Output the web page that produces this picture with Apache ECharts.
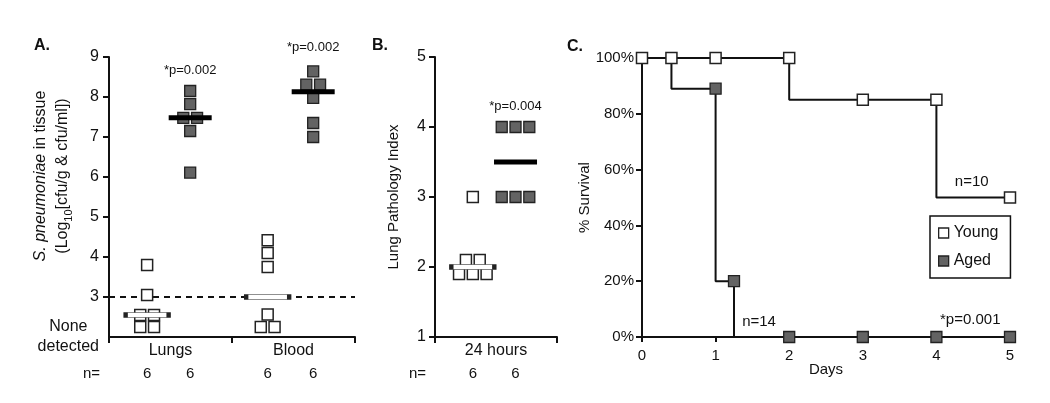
<!DOCTYPE html>
<html>
<head>
<meta charset="utf-8">
<script src="https://cdn.jsdelivr.net/npm/echarts@6/dist/echarts.min.js"></script>
<style>
  html, body { margin: 0; padding: 0; background: #fff; }
  #chart { width: 1050px; height: 403px; }
</style>
</head>
<body>
<div id="chart"></div>
<script>
// ---------------- DATA ----------------
// Panel A: bacterial burden (log10 cfu)
const tissueCategories = ['Lungs', 'Blood'];
const youngLungs = [3.8, 3.05, 2.55, 2.55, 2.25, 2.25];
const agedLungs  = [8.15, 7.82, 7.48, 7.48, 7.15, 6.11];
const youngBlood = [4.42, 4.1, 3.75, 2.56, 2.25, 2.25];
const agedBlood  = [8.64, 8.31, 8.31, 7.98, 7.35, 7.0];
const mediansA   = [2.55, 7.48, 3.0, 8.13];   // young lungs, aged lungs, young blood, aged blood
const nA         = [6, 6, 6, 6];
const detectionLimit = 3;
const yTicksA    = [3, 4, 5, 6, 7, 8, 9];
const pLabelsA   = ['*p=0.002', '*p=0.002'];
const pLabelYA   = [8.67, 9.24];

// Panel B: lung pathology index
const timeCategories = ['24 hours'];
const youngPath  = [3, 2.1, 2.1, 1.9, 1.9, 1.9];
const agedPath   = [4, 4, 4, 3, 3, 3];
const mediansB   = [2.0, 3.5];
const nB         = [6, 6];
const pLabelB    = '*p=0.004';
const pLabelYB   = 4.30;

// Panel C: survival
const youngDays  = [0, 0.4, 1, 2, 3, 4, 5];
const youngSurv  = [100, 100, 100, 100, 85, 85, 50];
const agedDays   = [0, 0.4, 1, 1.25, 2, 3, 4, 5];
const agedSurv   = [100, 100, 89, 20, 0, 0, 0, 0];
const agedMarked = [false, false, true, true, true, true, true, true];
const survTicks  = [0, 20, 40, 60, 80, 100];
const dayTicks   = [0, 1, 2, 3, 4, 5];
const annotC     = [
  { text: 'n=10',     day: 4.48, surv: 55.7 },
  { text: 'n=14',     day: 1.59, surv: 5.4 },
  { text: '*p=0.001', day: 4.46, surv: 6.3 }
];

// ---------------- LAYOUT / STYLE ----------------
const FONT = '"Liberation Sans", Arial, Helvetica, sans-serif';
const TXT = '#111';
const GRAY = '#636363';
const EDGE = '#222';
const groupPosA = [0.31, 0.66, 1.29, 1.66];   // x positions of groups within panel A (0..2)
const groupPosB = [0.31, 0.66];               // x positions within panel B (0..1)
const stepA = 0.112, stepB = 0.113;

function swarm(values, center, step) {
  const counts = {}, seen = {};
  values.forEach(v => counts[v] = (counts[v] || 0) + 1);
  return values.map(v => {
    const n = counts[v];
    const i = seen[v] = (seen[v] === undefined ? 0 : seen[v] + 1);
    return [center + (i - (n - 1) / 2) * step, v];
  });
}

const youngStyle = { color: '#fff', borderColor: EDGE, borderWidth: 1.5, opacity: 1 };
const agedStyle  = { color: GRAY, borderColor: EDGE, borderWidth: 1.3, opacity: 1 };

function axisLineStyle() { return { show: true, lineStyle: { color: TXT, width: 2 } }; }

const chart = echarts.init(document.getElementById('chart'), null, { renderer: 'canvas' });

function nearestIdx(arr, v) {
  let best = 0;
  arr.forEach((a, i) => { if (Math.abs(a - v) < Math.abs(arr[best] - v)) best = i; });
  return best;
}

const labelStyle = (size) => ({ show: true, position: 'inside', formatter: p => p.name, fontSize: size, color: TXT, fontFamily: FONT, opacity: 1 });

const option = {
  animation: false,
  backgroundColor: '#fff',
  textStyle: { fontFamily: FONT, color: TXT },
  title: [
    { text: 'A.', left: 34, top: 38, padding: 0, textStyle: { fontSize: 16, fontWeight: 'bold', color: TXT, fontFamily: FONT } },
    { text: 'B.', left: 372, top: 38, padding: 0, textStyle: { fontSize: 16, fontWeight: 'bold', color: TXT, fontFamily: FONT } },
    { text: 'C.', left: 567, top: 39, padding: 0, textStyle: { fontSize: 16, fontWeight: 'bold', color: TXT, fontFamily: FONT } }
  ],
  legend: {
    left: 930, top: 216, orient: 'vertical',
    borderColor: TXT, borderWidth: 1.5, padding: [9, 12, 9, 8],
    itemWidth: 10, itemHeight: 10, itemGap: 12,
    textStyle: { fontSize: 16, color: TXT, fontFamily: FONT },
    selectedMode: false,
    data: [
      { name: 'Young', icon: 'rect', itemStyle: { color: '#fff', borderColor: EDGE, borderWidth: 1.3 } },
      { name: 'Aged', icon: 'rect', itemStyle: { color: GRAY, borderColor: EDGE, borderWidth: 1.3 } }
    ]
  },
  grid: [
    { left: 109, top: 57, width: 246, height: 280, containLabel: false, outerBoundsMode: 'none' },
    { left: 435, top: 57, width: 122, height: 280, containLabel: false, outerBoundsMode: 'none' },
    { left: 642, top: 58, width: 368, height: 279, containLabel: false, outerBoundsMode: 'none' }
  ],
  xAxis: [
    { // A main
      gridIndex: 0, type: 'value', min: 0, max: 2,
      axisLine: axisLineStyle(),
      axisTick: { show: true, customValues: [0, 1, 2], length: 6, lineStyle: { color: TXT, width: 2 } },
      axisLabel: { customValues: [0.5, 1.5], formatter: v => tissueCategories[Math.floor(v)], fontSize: 16, color: TXT, margin: 6, fontFamily: FONT },
      splitLine: { show: false }
    },
    { // A n-row
      gridIndex: 0, type: 'value', min: 0, max: 2, position: 'bottom', offset: 29,
      axisLine: { show: false }, axisTick: { show: false }, splitLine: { show: false },
      axisLabel: { customValues: groupPosA, formatter: v => String(nA[nearestIdx(groupPosA, v)]), fontSize: 15, color: TXT, margin: 0, verticalAlign: 'top', fontFamily: FONT },
      name: 'n=', nameLocation: 'start', nameGap: 9, nameMoveOverlap: false,
      nameTextStyle: { fontSize: 15, color: TXT, verticalAlign: 'top', fontFamily: FONT }
    },
    { // B main
      gridIndex: 1, type: 'value', min: 0, max: 1,
      axisLine: axisLineStyle(),
      axisTick: { show: true, customValues: [0, 1], length: 6, lineStyle: { color: TXT, width: 2 } },
      axisLabel: { customValues: [0.5], formatter: () => timeCategories[0], fontSize: 16, color: TXT, margin: 6, fontFamily: FONT },
      splitLine: { show: false }
    },
    { // B n-row
      gridIndex: 1, type: 'value', min: 0, max: 1, position: 'bottom', offset: 29,
      axisLine: { show: false }, axisTick: { show: false }, splitLine: { show: false },
      axisLabel: { customValues: groupPosB, formatter: v => String(nB[nearestIdx(groupPosB, v)]), fontSize: 15, color: TXT, margin: 0, verticalAlign: 'top', fontFamily: FONT },
      name: 'n=', nameLocation: 'start', nameGap: 9, nameMoveOverlap: false,
      nameTextStyle: { fontSize: 15, color: TXT, verticalAlign: 'top', fontFamily: FONT }
    },
    { // C
      gridIndex: 2, type: 'value', min: 0, max: 5, interval: 1,
      axisLine: axisLineStyle(),
      axisTick: { show: true, customValues: dayTicks, length: 5, lineStyle: { color: TXT, width: 2 } },
      axisLabel: { customValues: dayTicks, fontSize: 15, color: TXT, margin: 11, fontFamily: FONT },
      splitLine: { show: false },
      name: 'Days', nameLocation: 'middle', nameGap: 25, nameMoveOverlap: false,
      nameTextStyle: { fontSize: 15, color: TXT, fontFamily: FONT }
    }
  ],
  yAxis: [
    { // A
      gridIndex: 0, type: 'value', min: 2, max: 9, interval: 1,
      axisLine: axisLineStyle(),
      axisTick: { show: true, customValues: yTicksA, length: 6, lineStyle: { color: TXT, width: 2 } },
      axisLabel: {
        customValues: [2].concat(yTicksA),
        formatter: v => (v === 2 ? '{nd|None}\n{nd|detected}' : String(v)),
        fontSize: 16, lineHeight: 20, color: TXT, margin: 10, fontFamily: FONT,
        rich: { nd: { align: 'center', fontSize: 16, lineHeight: 20, color: TXT, fontFamily: FONT } }
      },
      splitLine: { show: false },
      name: '{pad| }{it|S. pneumoniae} in tissue\n{pad| }(Log{sub|10}[cfu/g & cfu/ml])',
      nameLocation: 'middle', nameGap: 35, nameMoveOverlap: false,
      nameTextStyle: {
        fontSize: 16, color: TXT, lineHeight: 22, fontFamily: FONT,
        rich: {
          pad: { width: 42, fontSize: 16, lineHeight: 22 },
          it: { fontStyle: 'italic', fontSize: 16, color: TXT, fontFamily: FONT, lineHeight: 22 },
          sub: { fontSize: 11, color: TXT, fontFamily: FONT, verticalAlign: 'bottom', lineHeight: 17 }
        }
      }
    },
    { // B
      gridIndex: 1, type: 'value', min: 1, max: 5, interval: 1,
      axisLine: axisLineStyle(),
      axisTick: { show: true, length: 6, lineStyle: { color: TXT, width: 2 } },
      axisLabel: { fontSize: 16, color: TXT, margin: 9, fontFamily: FONT },
      splitLine: { show: false },
      name: 'Lung Pathology Index', nameLocation: 'middle', nameGap: 34, nameMoveOverlap: false,
      nameTextStyle: { fontSize: 15, color: TXT, fontFamily: FONT }
    },
    { // C
      gridIndex: 2, type: 'value', min: 0, max: 100, interval: 20,
      axisLine: axisLineStyle(),
      axisTick: { show: true, customValues: survTicks, length: 6, lineStyle: { color: TXT, width: 2 } },
      axisLabel: { customValues: survTicks, formatter: '{value}%', fontSize: 15, color: TXT, margin: 8, fontFamily: FONT },
      splitLine: { show: false },
      name: '% Survival', nameLocation: 'middle', nameGap: 50, nameMoveOverlap: false,
      nameTextStyle: { fontSize: 15, color: TXT, fontFamily: FONT }
    }
  ],
  series: [
    // ----- Panel A -----
    {
      name: 'A detection limit', type: 'scatter', xAxisIndex: 0, yAxisIndex: 0,
      data: [], z: 1,
      markLine: {
        silent: true, symbol: 'none', animation: false, z: 1,
        label: { show: false },
        lineStyle: { color: TXT, width: 2, type: [6, 5], opacity: 1 },
        emphasis: { disabled: true },
        data: [{ yAxis: detectionLimit }]
      }
    },
    {
      name: 'A young lungs', type: 'scatter', xAxisIndex: 0, yAxisIndex: 0,
      symbol: 'rect', symbolSize: 11, itemStyle: youngStyle, z: 3,
      data: swarm(youngLungs, groupPosA[0], stepA)
    },
    {
      name: 'A aged lungs', type: 'scatter', xAxisIndex: 0, yAxisIndex: 0,
      symbol: 'rect', symbolSize: 11, itemStyle: agedStyle, z: 3,
      data: swarm(agedLungs, groupPosA[1], stepA)
    },
    {
      name: 'A young blood', type: 'scatter', xAxisIndex: 0, yAxisIndex: 0,
      symbol: 'rect', symbolSize: 11, itemStyle: youngStyle, z: 3,
      data: swarm(youngBlood, groupPosA[2], stepA)
    },
    {
      name: 'A aged blood', type: 'scatter', xAxisIndex: 0, yAxisIndex: 0,
      symbol: 'rect', symbolSize: 11, itemStyle: agedStyle, z: 3,
      data: swarm(agedBlood, groupPosA[3], stepA)
    },
    {
      name: 'A medians', type: 'scatter', xAxisIndex: 0, yAxisIndex: 0,
      symbol: 'rect', symbolSize: [43, 5], z: 5,
      data: mediansA.map((m, i) => ({
        value: [groupPosA[i], m],
        itemStyle: i % 2 === 0 ? { color: '#fff', borderColor: EDGE, borderWidth: 1.5, opacity: 1 } : { color: '#000', borderWidth: 0, opacity: 1 }
      }))
    },
    {
      name: 'A labels', type: 'scatter', xAxisIndex: 0, yAxisIndex: 0, clip: false,
      symbolSize: 0, silent: true, z: 6, itemStyle: { opacity: 1 },
      label: labelStyle(13),
      data: pLabelsA.map((t, i) => ({ name: t, value: [groupPosA[2 * i + 1], pLabelYA[i]] }))
    },
    // ----- Panel B -----
    {
      name: 'B young', type: 'scatter', xAxisIndex: 2, yAxisIndex: 1,
      symbol: 'rect', symbolSize: 11, itemStyle: youngStyle, z: 3,
      data: swarm(youngPath, groupPosB[0], stepB)
    },
    {
      name: 'B aged', type: 'scatter', xAxisIndex: 2, yAxisIndex: 1,
      symbol: 'rect', symbolSize: 11, itemStyle: agedStyle, z: 3,
      data: swarm(agedPath, groupPosB[1], stepB)
    },
    {
      name: 'B medians', type: 'scatter', xAxisIndex: 2, yAxisIndex: 1,
      symbol: 'rect', symbolSize: [43, 5], z: 5,
      data: mediansB.map((m, i) => ({
        value: [groupPosB[i], m],
        itemStyle: i === 0 ? { color: '#fff', borderColor: EDGE, borderWidth: 1.5, opacity: 1 } : { color: '#000', borderWidth: 0, opacity: 1 }
      }))
    },
    {
      name: 'B labels', type: 'scatter', xAxisIndex: 2, yAxisIndex: 1, clip: false,
      symbolSize: 0, silent: true, z: 6, itemStyle: { opacity: 1 },
      label: labelStyle(13),
      data: [{ name: pLabelB, value: [groupPosB[1], pLabelYB] }]
    },
    // ----- Panel C -----
    {
      name: 'Aged', type: 'line', xAxisIndex: 4, yAxisIndex: 2, step: 'start',
      symbol: 'rect', symbolSize: 11, showAllSymbol: true, z: 2,
      lineStyle: { color: TXT, width: 2 },
      itemStyle: agedStyle,
      data: agedDays.map((d, i) => agedMarked[i] ? [d, agedSurv[i]] : { value: [d, agedSurv[i]], symbol: 'none' })
    },
    {
      name: 'Young', type: 'line', xAxisIndex: 4, yAxisIndex: 2, step: 'start',
      symbol: 'rect', symbolSize: 11, showAllSymbol: true, z: 3,
      lineStyle: { color: TXT, width: 2 },
      itemStyle: youngStyle,
      data: youngDays.map((d, i) => [d, youngSurv[i]])
    },
    {
      name: 'C labels', type: 'scatter', xAxisIndex: 4, yAxisIndex: 2, clip: false,
      symbolSize: 0, silent: true, z: 6, itemStyle: { opacity: 1 },
      label: labelStyle(15),
      data: annotC.map(a => ({ name: a.text, value: [a.day, a.surv] }))
    }
  ]
};

chart.setOption(option);
</script>
</body>
</html>
